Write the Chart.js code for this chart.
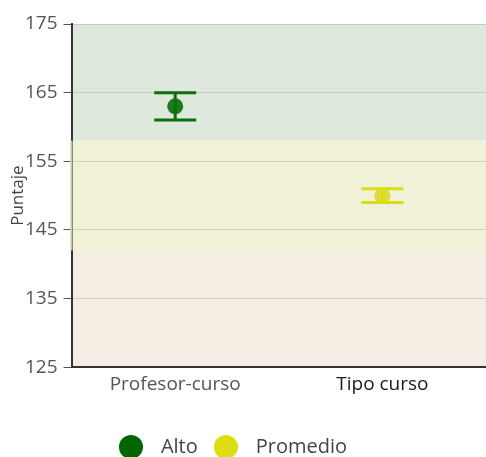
<!DOCTYPE html>
<html>
<head>
<meta charset="utf-8">
<script src="https://cdn.jsdelivr.net/npm/chart.js@4/dist/chart.umd.min.js"></script>
<style>
  body { margin: 0; background: #fff; }
  #wrap { width: 486px; height: 457px; }
</style>
</head>
<body>
<div id="wrap"><canvas id="chart" width="486" height="457"></canvas></div>
<script>
// Data
const categories = ['Profesor-curso', 'Tipo curso'];
const seriesNames = ['Alto', 'Promedio'];
const altoValues = [163, null];
const promedioValues = [null, 150];
const altoLow = [161, null];
const altoHigh = [165, null];
const promedioLow = [null, 149];
const promedioHigh = [null, 151];
const yTicks = [125, 135, 145, 155, 165, 175];
// Background bands: [from, to]
const bandRanges = [[158, 175], [142, 158], [125, 142]];

const bandColors = ['#dfe8dc', '#f1f1d8', '#f5ede4'];
const green = '#0d6e0d';
const yellow = '#dcdc14';

// paints the coloured bands behind the grid
const bands = {
  id: 'bands',
  beforeDraw(chart) {
    const { ctx, chartArea: a, scales: { y } } = chart;
    ctx.save();
    bandRanges.forEach((r, i) => {
      const top = y.getPixelForValue(r[1]);
      const bot = y.getPixelForValue(r[0]);
      ctx.fillStyle = bandColors[i];
      ctx.fillRect(a.left, top, a.right - a.left, bot - top);
    });
    ctx.restore();
  },
  // middle band covers the axis line, like in the original
  beforeDatasetsDraw(chart) {
    const { ctx, chartArea: a, scales: { y } } = chart;
    const top = y.getPixelForValue(bandRanges[1][1]);
    const bot = y.getPixelForValue(bandRanges[1][0]);
    ctx.save();
    ctx.fillStyle = 'rgba(225,225,190,0.85)';
    ctx.fillRect(a.left - 1.5, top, 2.5, bot - top);
    ctx.restore();
  },
  // legend sits a little left of centre in the original
  afterLayout(chart) {
    chart.legend.left -= 13;
    chart.legend.right -= 13;
  }
};

// error bars drawn from the low/high arrays
const errorBars = {
  id: 'errorBars',
  afterDatasetsDraw(chart) {
    const { ctx, scales: { x, y } } = chart;
    const sets = [[altoLow, altoHigh, green], [promedioLow, promedioHigh, yellow]];
    ctx.save();
    ctx.lineWidth = 3;
    sets.forEach(([lo, hi, col]) => {
      lo.forEach((l, i) => {
        if (l == null) return;
        const px = x.getPixelForValue(i);
        const y1 = y.getPixelForValue(l);
        const y2 = y.getPixelForValue(hi[i]);
        ctx.strokeStyle = col;
        ctx.beginPath();
        ctx.moveTo(px, y1); ctx.lineTo(px, y2);
        ctx.moveTo(px - 21, y1); ctx.lineTo(px + 21, y1);
        ctx.moveTo(px - 21, y2); ctx.lineTo(px + 21, y2);
        ctx.stroke();
      });
    });
    ctx.restore();
  }
};

// legend marker: 24px circle
function dot(color) {
  const c = document.createElement('canvas');
  c.width = 24; c.height = 24;
  const g = c.getContext('2d');
  g.fillStyle = color;
  g.beginPath(); g.arc(12, 12, 12, 0, Math.PI * 2); g.fill();
  return c;
}
const legendDots = [dot('#006600'), dot('#dddd11')];

const font = "'Open Sans', 'Noto Sans', sans-serif";

new Chart(document.getElementById('chart'), {
  type: 'line',
  data: {
    labels: categories,
    datasets: [
      { label: seriesNames[0], data: altoValues, showLine: false,
        backgroundColor: '#006600', borderColor: '#006600',
        pointBackgroundColor: '#1f7a1f', pointBorderWidth: 0, pointRadius: 8 },
      { label: seriesNames[1], data: promedioValues, showLine: false,
        backgroundColor: '#dddd11', borderColor: '#dddd11',
        pointBackgroundColor: 'rgba(218,218,40,0.9)', pointBorderWidth: 0, pointRadius: 8 }
    ]
  },
  options: {
    responsive: false,
    animation: false,
    layout: { autoPadding: false, padding: { top: 24, right: 0, left: 8, bottom: -10 } },
    plugins: {
      tooltip: { enabled: false },
      legend: {
        position: 'bottom',
        labels: {
          usePointStyle: true,
          color: '#444',
          padding: 18,
          font: { family: font, size: 20 },
          generateLabels: chart => Chart.defaults.plugins.legend.labels.generateLabels(chart).map((l, i) => {
            l.text = '\u2002' + l.text;
            l.pointStyle = legendDots[i];
            return l;
          })
        }
      }
    },
    scales: {
      x: {
        offset: true,
        grid: { display: false },
        border: { display: true, color: '#333', width: 2 },
        ticks: {
          padding: -2,
          color: ctx => ctx.index === 1 ? '#1a1a1a' : '#555',
          font: { family: font, size: 19 }
        },
        afterFit: s => { s.height += 25; }
      },
      y: {
        min: 125,
        max: 175,
        afterBuildTicks: s => { s.ticks = yTicks.map(v => ({ value: v })); },
        grid: { color: 'rgba(150,150,150,0.35)', tickColor: '#555', tickLength: 8 },
        border: { display: true, color: '#333', width: 2 },
        title: { display: true, text: 'Puntaje', color: '#444', font: { family: font, size: 17, lineHeight: 1 }, padding: { top: 2, bottom: -8 } },
        ticks: { color: '#555', padding: 6, font: { family: font, size: 19 } }
      }
    }
  },
  plugins: [bands, errorBars]
});
</script>
</body>
</html>
